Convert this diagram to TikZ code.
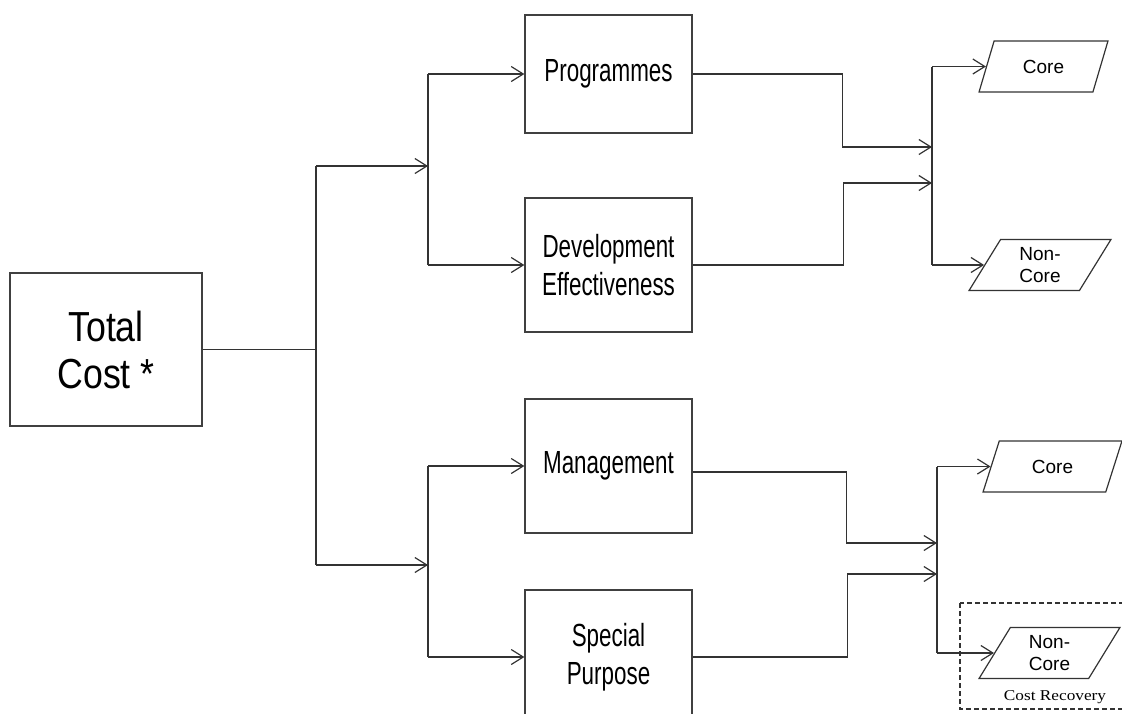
\documentclass[tikz,border=0pt]{standalone}
\usepackage{fontspec}
\setmainfont{Liberation Sans}
\newfontfamily\boxfont[FakeStretch=0.7]{Liberation Sans}
\newfontfamily\bigfont[FakeStretch=0.85]{Liberation Sans}
\newfontfamily\noteserif[FakeStretch=1.15]{Liberation Serif}
\usetikzlibrary{arrows.meta,shapes.geometric}
\begin{document}
\begin{tikzpicture}[x=1pt,y=-1pt,
  line/.style={draw=black!80, line width=1.2pt},
  arr/.style={line, -{Straight Barb[length=12pt,width=15pt]}},
  box/.style={draw=black!75, line width=1.3pt, minimum width=167pt, minimum height=134pt,
    align=center, inner sep=0pt, font=\boxfont\fontsize{32}{38}\selectfont},
  para/.style={trapezium, trapezium left angle=65, trapezium right angle=115,
    trapezium stretches=true, draw=black!80, line width=1.2pt, minimum height=51pt,
    align=center, inner sep=0pt, font=\fontsize{19}{22}\selectfont}
]
\useasboundingbox (0,0) rectangle (1122,713);
\clip (0,0) rectangle (1122,713);

% boxes
\node[box, minimum width=192pt, minimum height=153pt,
      font=\bigfont\fontsize{42}{47}\selectfont] (total) at (106,349.5) {Total\\Cost *};
\node[box, minimum height=118pt] (prog) at (608.5,74) {Programmes};
\node[box] (dev) at (608.5,265) {Development\\Effectiveness};
\node[box] (mgmt) at (608.5,466) {Management};
\node[box] (spec) at (608.5,657) {Special\\Purpose};

% parallelograms
\node[para, minimum width=129pt] (core1) at (1043.5,66.5) {Core};
\node[para, minimum width=142pt] (nc1) at (1040,265) {Non-\\Core};
\node[para, minimum width=139pt] (core2) at (1052.5,466.5) {Core};
\node[para, minimum width=141pt] (nc2) at (1049.5,653) {Non-\\Core};

% dashed cost recovery frame
\draw[draw=black!80, line width=1.2pt, dash pattern=on 5pt off 3pt] (960,603) rectangle (1140,709);
\node[font=\noteserif\fontsize{15}{18}\selectfont] (cr) at (1055,697) {Cost Recovery};

% junction coordinates
\coordinate (t) at (316,349.5);
\coordinate (tA) at (316,166);
\coordinate (tB) at (316,565);
\coordinate (uA) at (428,166);
\coordinate (uB) at (428,565);
\coordinate (b1a) at (932,147);
\coordinate (b1b) at (932,183);
\coordinate (bus1) at (932,165);
\coordinate (b2a) at (937,543);
\coordinate (b2b) at (937,574);
\coordinate (bus2) at (937,560);

% trunk
\draw[line] (total.east) -- (total.east -| t);
\draw[line] (tA) -- (tB);
\draw[arr] (tA) -- (uA);
\draw[arr] (tB) -- (uB);

% upper branch
\draw[line] (uA |- prog.west) -- (uA |- dev.west);
\draw[arr] (uA |- prog.west) -- (prog.west);
\draw[arr] (uA |- dev.west) -- (dev.west);

% lower branch
\draw[line] (uB |- mgmt.west) -- (uB |- spec.west);
\draw[arr] (uB |- mgmt.west) -- (mgmt.west);
\draw[arr] (uB |- spec.west) -- (spec.west);

% upper right
\draw[arr] (prog.east) -- ++(150,0) |- (b1a);
\draw[arr] (dev.east) -- ++(151,0) |- (b1b);
\draw[line] (bus1 |- core1.west) -- (bus1 |- nc1.west);
\draw[arr] (bus1 |- core1.west) -- (core1.west);
\draw[arr] (bus1 |- nc1.west) -- (nc1.west);

% lower right
\draw[arr] ([yshift=-6pt]mgmt.east) -- ++(154,0) |- (b2a);
\draw[arr] (spec.east) -- ++(155,0) |- (b2b);
\draw[line] (bus2 |- core2.west) -- (bus2 |- nc2.west);
\draw[arr] (bus2 |- core2.west) -- (core2.west);
\draw[arr] (bus2 |- nc2.west) -- (nc2.west);
\end{tikzpicture}
\end{document}
